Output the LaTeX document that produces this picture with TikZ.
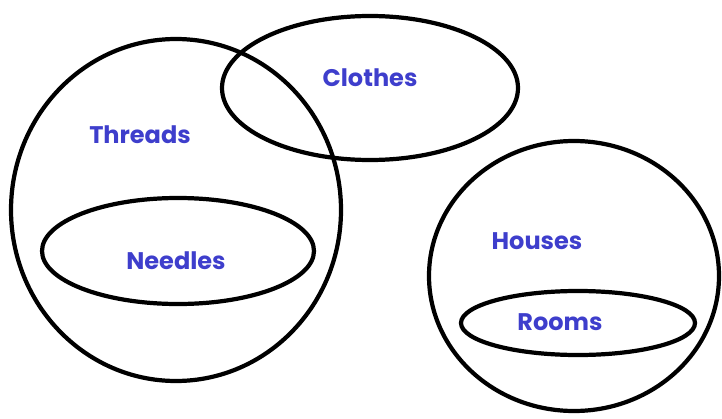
\documentclass[tikz,border=0pt]{standalone}
\usepackage{fontspec}
\setmainfont{Poppins}
\usepackage{xcolor}
\definecolor{SetBlue}{HTML}{3E3ECC}
\tikzset{
  setline/.style={line width=3.6pt, draw=black},
  setlabel/.style={font=\bfseries\fontsize{20.5}{23}\selectfont, text=SetBlue, inner sep=1pt}
}

\begin{document}
\begin{tikzpicture}[x=0.03cm, y=-0.03cm]
\useasboundingbox (0,0) rectangle (722,419);
% sets
\draw[setline] (176,210) ellipse [x radius=165, y radius=171];
\draw[setline] (370,88) ellipse [x radius=148, y radius=72];
\draw[setline] (178,251) ellipse [x radius=136, y radius=53];
\draw[setline] (574,276) ellipse [x radius=145, y radius=135];
\draw[setline] (578,323) ellipse [x radius=117, y radius=32];
% labels
\node[setlabel] at (140,135) (threads) {Threads};
\node[setlabel] at (370,78) (clothes) {Clothes};
\node[setlabel] at (176,261) (needles) {Needles};
\node[setlabel] at (537,241) (houses) {Houses};
\node[setlabel] at (560,322) (rooms) {Rooms};
\end{tikzpicture}
\end{document}
